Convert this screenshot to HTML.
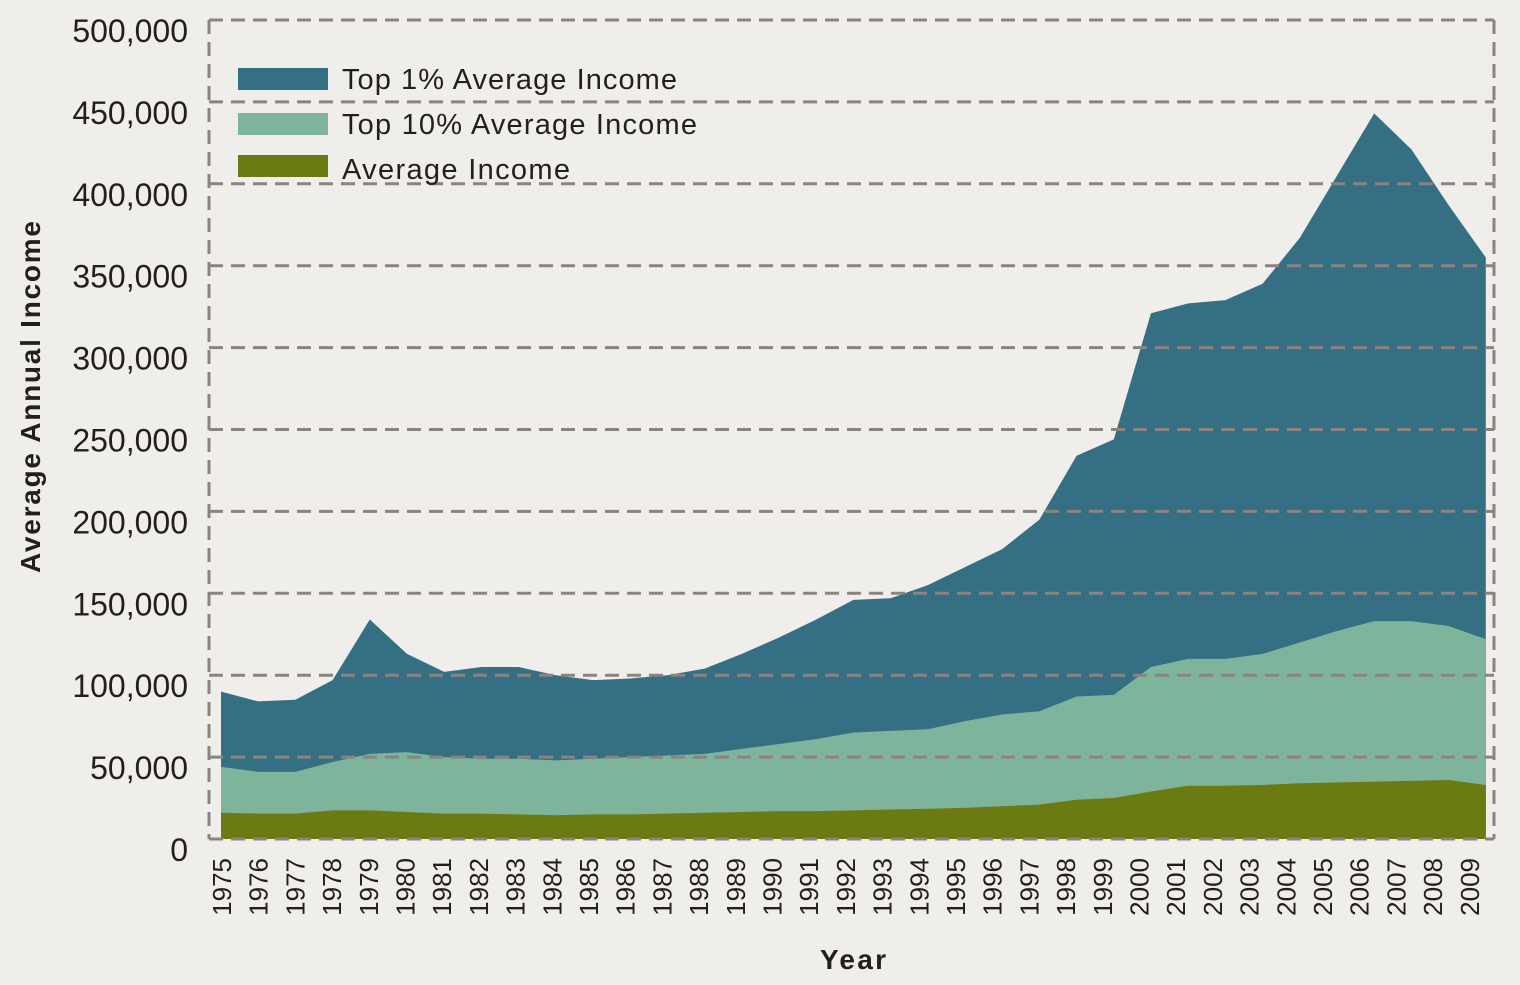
<!DOCTYPE html>
<html><head><meta charset="utf-8"><style>
body{margin:0;background:#f0eeeb;}
svg{display:block;font-family:"Liberation Sans",sans-serif;}
</style></head><body>
<svg id="chart" width="1520" height="985">
<rect width="1520" height="985" fill="#f0eeeb"/>
<g id="areas"></g><g id="grid"></g><g id="ylab"></g><g id="xlab"></g>
<text x="853" y="969" text-anchor="middle" font-size="28" font-weight="bold" fill="#231f20" textLength="66">Year</text>
<text transform="translate(40,397) rotate(-90)" text-anchor="middle" font-size="28" font-weight="bold" fill="#231f20" textLength="352">Average Annual Income</text>
<g>
<g><rect x="238" y="68" width="90" height="22" fill="#356f84"/><text x="342" y="89" font-size="29" fill="#231f20" textLength="335">Top 1% Average Income</text></g>
<g><rect x="238" y="113" width="90" height="22" fill="#7db49b"/><text x="342" y="134" font-size="29" fill="#231f20" textLength="355">Top 10% Average Income</text></g>
<g><rect x="238" y="155" width="90" height="22" fill="#6c7a12"/><text x="342" y="179" font-size="29" fill="#231f20" textLength="228">Average Income</text></g>
</g>
</svg>
<script>
const years=[1975,1976,1977,1978,1979,1980,1981,1982,1983,1984,1985,1986,1987,1988,1989,1990,1991,1992,1993,1994,1995,1996,1997,1998,1999,2000,2001,2002,2003,2004,2005,2006,2007,2008,2009];
const top1=[90,84,85,97,134,113,102,105,105,100,97,98,100,104,113,123,134,146,147,155,166,177,195,234,244,321,327,329,339,367,405,443,421,387,355];
const top10=[44,41,41,47,52,53,50,49,49,48,49,50,51,52,55,58,61,65,66,67,72,76,78,87,88,105,110,110,113,120,127,133,133,130,122];
const avg=[16,15.5,15.5,17.5,17.5,16.5,15.5,15.5,15,14.5,15,15,15.5,16,16.5,17,17,17.5,18,18.5,19,20,21,24,25,29,32.5,32.5,33,34,34.5,35,35.5,36,33];
const yTicks=[0,50000,100000,150000,200000,250000,300000,350000,400000,450000,500000];
const NS='http://www.w3.org/2000/svg';
const xS=i=>221+i*37.2;
const xL=i=>221+i*36.7;
const yS=v=>839-v*1.638;
function mk(t,a,p){const e=document.createElementNS(NS,t);for(const k in a)e.setAttribute(k,a[k]);document.getElementById(p).appendChild(e);return e;}
function area(arr,color,name){
  let d='M'+xS(0)+','+yS(0);
  arr.forEach((v,i)=>{d+=' L'+xS(i)+','+yS(v);});
  d+=' L'+xS(arr.length-1)+','+yS(0)+' Z';
  const p=mk('path',{d:d,fill:color},'areas');
  
  
}
area(top1,'#356f84','area-top1');
area(top10,'#7db49b','area-top10');
area(avg,'#6c7a12','area-average');
const gs={stroke:'#8a837f','stroke-width':3,'stroke-dasharray':'14,8',fill:'none'};
yTicks.forEach(t=>{
  const y=yS(t/1000);
  const l=mk('line',Object.assign({x1:209,x2:1494,y1:y,y2:y},gs),'grid');
  
  
  const tx=mk('text',{x:188,y:y+22,'text-anchor':'end','font-size':32,fill:'#231f20'},'ylab');
  tx.textContent=t===0?'0':t.toLocaleString('en-US');
  
  
});
[209,1494].forEach(x=>{
  const l=mk('line',Object.assign({x1:x,x2:x,y1:yS(500),y2:yS(0)},gs),'grid');
  
  
});
years.forEach((yr,i)=>{
  const x=xL(i)+10;
  const t=mk('text',{transform:'translate('+x+',858) rotate(-90)','text-anchor':'end','font-size':26,fill:'#231f20'},'xlab');
  t.textContent=yr;
  
  
});
</script>
</body></html>
